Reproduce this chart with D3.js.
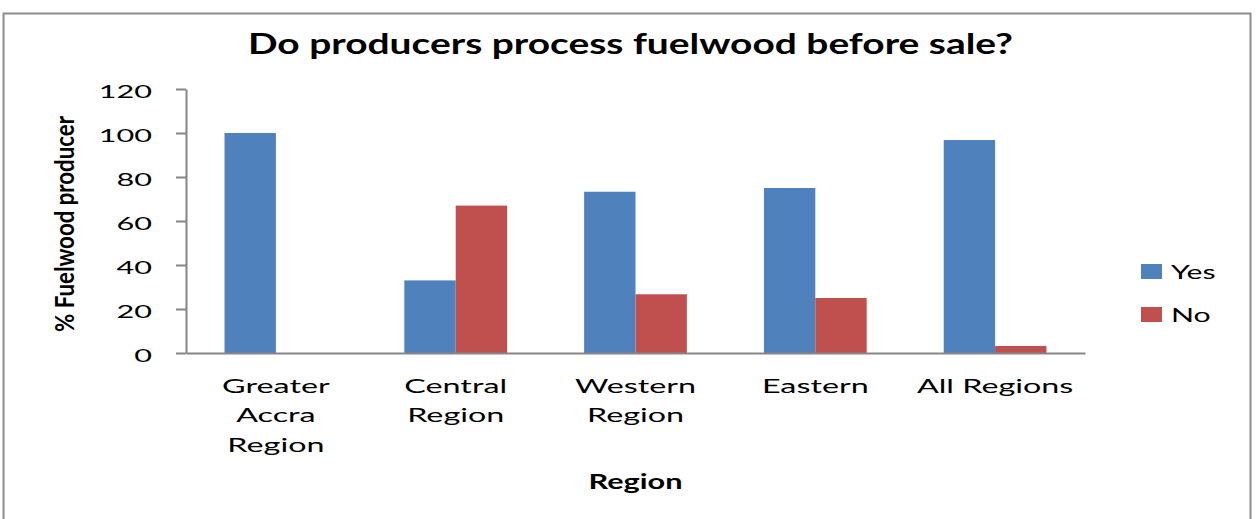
<!DOCTYPE html>
<html>
<head>
<meta charset="utf-8">
<script src="https://cdn.jsdelivr.net/npm/d3@7"></script>
<style>
  html, body { margin: 0; padding: 0; background: #fff; }
  svg { display: block; }
  text { font-family: Lato, "Open Sans", sans-serif; fill: #000; }
</style>
</head>
<body>
<svg id="chart" width="1257" height="519"></svg>
<script>
// Share of fuelwood producers who process wood before sale, by region
const categories = ["Greater Accra Region", "Central Region", "Western Region", "Eastern", "All Regions"];
const categoryLines = [["Greater", "Accra", "Region"], ["Central", "Region"], ["Western", "Region"], ["Eastern"], ["All Regions"]];
const seriesNames = ["Yes", "No"];
const yesValues = [100, 33, 73.3, 75, 96.8];
const noValues = [0, 67, 26.7, 25, 3.2];
const yTicks = [0, 20, 40, 60, 80, 100, 120];
const seriesColors = ["#4F81BD", "#C0504D"];

const svg = d3.select("#chart");
const plot = { left: 186, right: 1085, top: 89, bottom: 353 };
const sxTick = 1.7;       // horizontal stretch of the typeface
const sxCat = 1.7;
const sxLegend = 1.55;
const axisGrey = "#868686";

// outer frame
svg.append("rect")
  .attr("x", 3.5).attr("y", 13.5)
  .attr("width", 1247).attr("height", 530)
  .attr("fill", "#fff")
  .attr("stroke", "#8c8c8c").attr("stroke-width", 2);

// scales (gap between groups = 1.5 bar widths)
const x = d3.scaleBand().domain(categories)
  .range([plot.left, plot.right])
  .paddingInner(1.5 / 3.5).paddingOuter(0.75 / 3.5);
const xs = d3.scaleBand().domain(seriesNames).range([0, x.bandwidth()]);
const y = d3.scaleLinear().domain([0, 120]).range([plot.bottom, plot.top]);
const color = d3.scaleOrdinal().domain(seriesNames).range(seriesColors);

// bars
const rows = categories.map((c, i) => ({ cat: c, vals: [
  { key: "Yes", value: yesValues[i] },
  { key: "No", value: noValues[i] }
]}));

const groups = svg.append("g").selectAll("g").data(rows).join("g")
  .attr("transform", d => `translate(${x(d.cat)},0)`);
groups.selectAll("rect").data(d => d.vals.filter(v => v.value > 0)).join("rect")
  .attr("x", d => xs(d.key))
  .attr("width", xs.bandwidth())
  .attr("y", d => y(d.value))
  .attr("height", d => y(0) - y(d.value))
  .attr("fill", d => color(d.key));

// y axis
const yAxis = svg.append("g")
  .attr("transform", `translate(${plot.left},0)`)
  .call(d3.axisLeft(y).tickValues(yTicks).tickSize(10).tickSizeOuter(0));
yAxis.select(".domain").attr("stroke", axisGrey).attr("stroke-width", 2);
yAxis.selectAll(".tick line").attr("stroke", axisGrey).attr("stroke-width", 2);
yAxis.selectAll(".tick text")
  .attr("x", -34 / sxTick)
  .attr("dy", "0.45em")
  .attr("transform", `scale(${sxTick},1)`)
  .style("font-family", "Lato, sans-serif")
  .style("font-size", "18px")
  .attr("fill", "#000");

// x axis (baseline only, labels wrapped under each group)
const xAxis = svg.append("g")
  .attr("transform", `translate(0,${plot.bottom})`)
  .call(d3.axisBottom(x).tickSize(0).tickFormat(""));
xAxis.select(".domain").attr("stroke", axisGrey).attr("stroke-width", 2);
xAxis.selectAll(".tick text").remove();

const catLabels = svg.append("g").selectAll("text").data(categories).join("text")
  .attr("transform", d => `translate(${x(d) + x.bandwidth() / 2},393) scale(${sxCat},1)`)
  .attr("text-anchor", "middle")
  .style("font-size", "19px");
catLabels.each(function(d, i) {
  d3.select(this).selectAll("tspan").data(categoryLines[i]).join("tspan")
    .attr("x", 0)
    .attr("y", (t, j) => j * 29.5)
    .text(t => t);
});

// title
svg.append("text")
  .attr("x", 630.5).attr("y", 54)
  .attr("text-anchor", "middle")
  .attr("textLength", 765).attr("lengthAdjust", "spacingAndGlyphs")
  .style("font-size", "28px").style("font-weight", "700")
  .text("Do producers process fuelwood before sale?");

// axis titles
svg.append("text")
  .attr("transform", "translate(74,224) rotate(-90) scale(1,1.3)")
  .attr("text-anchor", "middle")
  .attr("textLength", 216).attr("lengthAdjust", "spacingAndGlyphs")
  .style("font-size", "20px").style("font-weight", "700")
  .text("% Fuelwood producer");

svg.append("text")
  .attr("x", (plot.left + plot.right) / 2).attr("y", 489)
  .attr("text-anchor", "middle")
  .attr("textLength", 94).attr("lengthAdjust", "spacingAndGlyphs")
  .style("font-size", "21px").style("font-weight", "700")
  .text("Region");

// legend
const legend = svg.append("g").selectAll("g").data(seriesNames).join("g")
  .attr("transform", (d, i) => `translate(1141,${264 + i * 43})`);
legend.append("rect")
  .attr("width", 21).attr("height", 15)
  .attr("fill", d => color(d));
legend.append("text")
  .attr("transform", `translate(30,15) scale(${sxLegend},1)`)
  .style("font-size", "19.5px")
  .text(d => d);
</script>
</body>
</html>
